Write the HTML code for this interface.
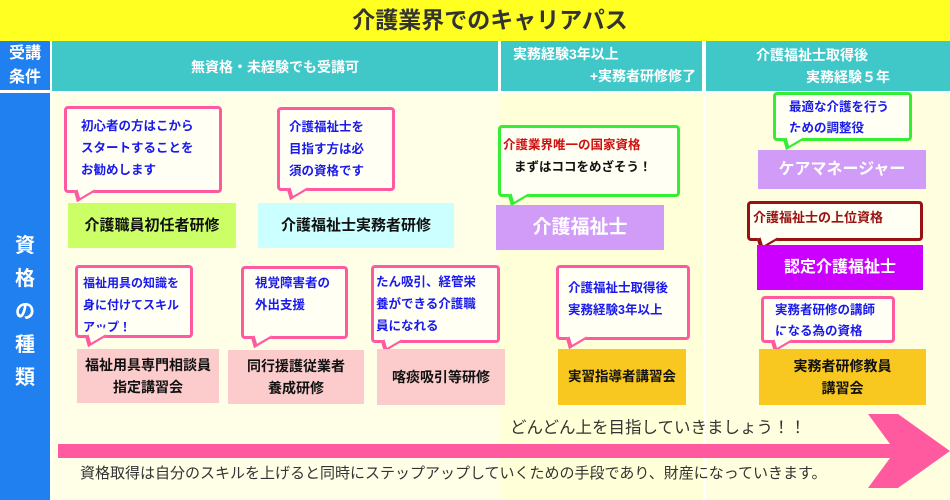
<!DOCTYPE html>
<html><head><meta charset="utf-8"><style>
*{margin:0;padding:0;box-sizing:border-box}
body{width:950px;height:500px;position:relative;overflow:hidden;background:#fff;font-family:"Liberation Sans","Noto Sans CJK JP",sans-serif}
.a{position:absolute}
.bub{position:absolute;border:3px solid #ff5aa0;border-radius:4px;background:#fffff4;color:#1a1aee;font-size:12.5px;font-weight:bold;line-height:22px;padding:6px 0 0 12px}
.bub:after{content:"";position:absolute;left:10px;bottom:-9px;width:12px;height:12px;background:#fffff4;border-right:3px solid #ff5aa0;border-bottom:3px solid #ff5aa0;transform:skewX(-35deg) rotate(45deg)}
.g{border-color:#33ee33}.g:after{border-color:#33ee33}
.r{border-color:#991111}.r:after{border-color:#991111}
.box{position:absolute;display:flex;align-items:center;justify-content:center;text-align:center;font-weight:bold;font-size:14px;color:#111;line-height:22px}
.hd{position:absolute;background:#40c8c8;color:#fff;font-size:14px;font-weight:bold}
</style></head><body>
<div class="a" style="left:0;top:0;width:950px;height:41px;background:#ffff22"></div>
<div class="a" style="left:0;top:4px;width:980px;text-align:center;font-size:23px;color:#333;line-height:32px;font-weight:bold">介護業界でのキャリアパス</div>
<div class="a" style="left:0;top:41px;width:50px;height:49px;background:#2080f0;color:#fff;font-size:16px;line-height:24px;text-align:center;padding-top:1px;font-weight:bold">受講<br>条件</div>
<div class="hd" style="left:52px;top:41px;width:446px;height:50px;text-align:center;line-height:52px">無資格・未経験でも受講可</div>
<div class="hd" style="left:501px;top:41px;width:201px;height:50px;line-height:22px;padding-top:2px"><div style="padding-left:12px">実務経験3年以上</div><div style="text-align:right;padding-right:6px">+実務者研修修了</div></div>
<div class="hd" style="left:706px;top:41px;width:244px;height:50px;line-height:22px;padding-top:3px"><div style="padding-left:50px">介護福祉士取得後</div><div style="padding-left:100px">実務経験５年</div></div>
<div class="a" style="left:0;top:93px;width:50px;height:407px;background:#2080f0;color:#fff;font-size:20px;font-weight:bold;text-align:center;line-height:33px;padding-top:137px">資<br>格<br>の<br>種<br>類</div>
<div class="a" style="left:52px;top:93px;width:448px;height:407px;background:#ffffe8"></div>
<div class="a" style="left:500px;top:93px;width:203px;height:407px;background:#ffffd8"></div>
<div class="a" style="left:706px;top:93px;width:244px;height:407px;background:#ffffe0"></div>

<div class="bub" style="left:64px;top:106px;width:158px;height:87px;padding-left:14px">初心者の方はこから<br>スタートすることを<br>お勧めします</div>
<div class="box" style="left:68px;top:203px;width:168px;height:45px;background:#ccff66;font-size:15px">介護職員初任者研修</div>
<div class="bub" style="left:277px;top:107px;width:118px;height:84px;padding-left:9px">介護福祉士を<br>目指す方は必<br>須の資格です</div>
<div class="box" style="left:258px;top:203px;width:196px;height:45px;background:#ccffff;font-size:15px">介護福祉士実務者研修</div>

<div class="bub g" style="left:498px;top:125px;width:182px;height:72px;padding:6px 0 0 2px;color:#cc1111;font-size:12.5px">介護業界唯一の国家資格<br><span style="color:#111;padding-left:11px">まずはココをめざそう！</span></div>
<div class="box" style="left:496px;top:205px;width:168px;height:45px;background:#d09cf8;color:#fff;font-size:19px">介護福祉士</div>

<div class="bub g" style="left:773px;top:92px;width:139px;height:49px;padding:2px 0 0 13px;line-height:21px">最適な介護を行う<br>ための調整役</div>
<div class="box" style="left:758px;top:150px;width:168px;height:39px;background:#d09cf8;color:#fff;font-size:16px">ケアマネージャー</div>
<div class="bub r" style="left:747px;top:201px;width:176px;height:40px;padding:3px 0 0 3px;color:#991111;font-size:13px">介護福祉士の上位資格</div>
<div class="box" style="left:757px;top:245px;width:166px;height:45px;background:#cc00ff;color:#fff;font-size:16px">認定介護福祉士</div>
<div class="bub" style="left:761px;top:296px;width:134px;height:47px;padding:1px 0 0 11px;line-height:21px">実務者研修の講師<br>になる為の資格</div>
<div class="box" style="left:759px;top:349px;width:167px;height:56px;background:#f8c820">実務者研修教員<br>講習会</div>

<div class="bub" style="left:556px;top:265px;width:134px;height:75px;padding:9px 0 0 9px">介護福祉士取得後<br>実務経験3年以上</div>
<div class="box" style="left:558px;top:349px;width:128px;height:56px;background:#f8c820;font-size:13.5px">実習指導者講習会</div>

<div class="bub" style="left:75px;top:265px;width:118px;height:73px;padding:4px 0 0 5px;font-size:12px">福祉用具の知識を<br>身に付けてスキル<br>アップ！</div>
<div class="box" style="left:77px;top:349px;width:142px;height:54px;background:#fccccc">福祉用具専門相談員<br>指定講習会</div>
<div class="bub" style="left:241px;top:266px;width:107px;height:73px;padding:3px 0 0 11px">視覚障害者の<br>外出支援</div>
<div class="box" style="left:228px;top:350px;width:136px;height:54px;background:#fccccc">同行援護従業者<br>養成研修</div>
<div class="bub" style="left:371px;top:265px;width:129px;height:78px;padding:3px 0 0 2px">たん吸引、経管栄<br>養ができる介護職<br>員になれる</div>
<div class="box" style="left:377px;top:349px;width:128px;height:56px;background:#fccccc">喀痰吸引等研修</div>

<div class="a" style="left:510px;top:414px;font-size:16.5px;color:#333">どんどん上を目指していきましょう！！</div>
<svg class="a" style="left:0;top:0" width="950" height="500"><polygon points="58,444 890,444 868,414 898,414 950,451 898,488 868,488 890,458 58,458" fill="#ff5aa0"/></svg>
<div class="a" style="left:80px;top:462px;font-size:15px;color:#333;white-space:nowrap">資格取得は自分のスキルを上げると同時にステップアップしていくための手段であり、財産になっていきます。</div>
</body></html>
